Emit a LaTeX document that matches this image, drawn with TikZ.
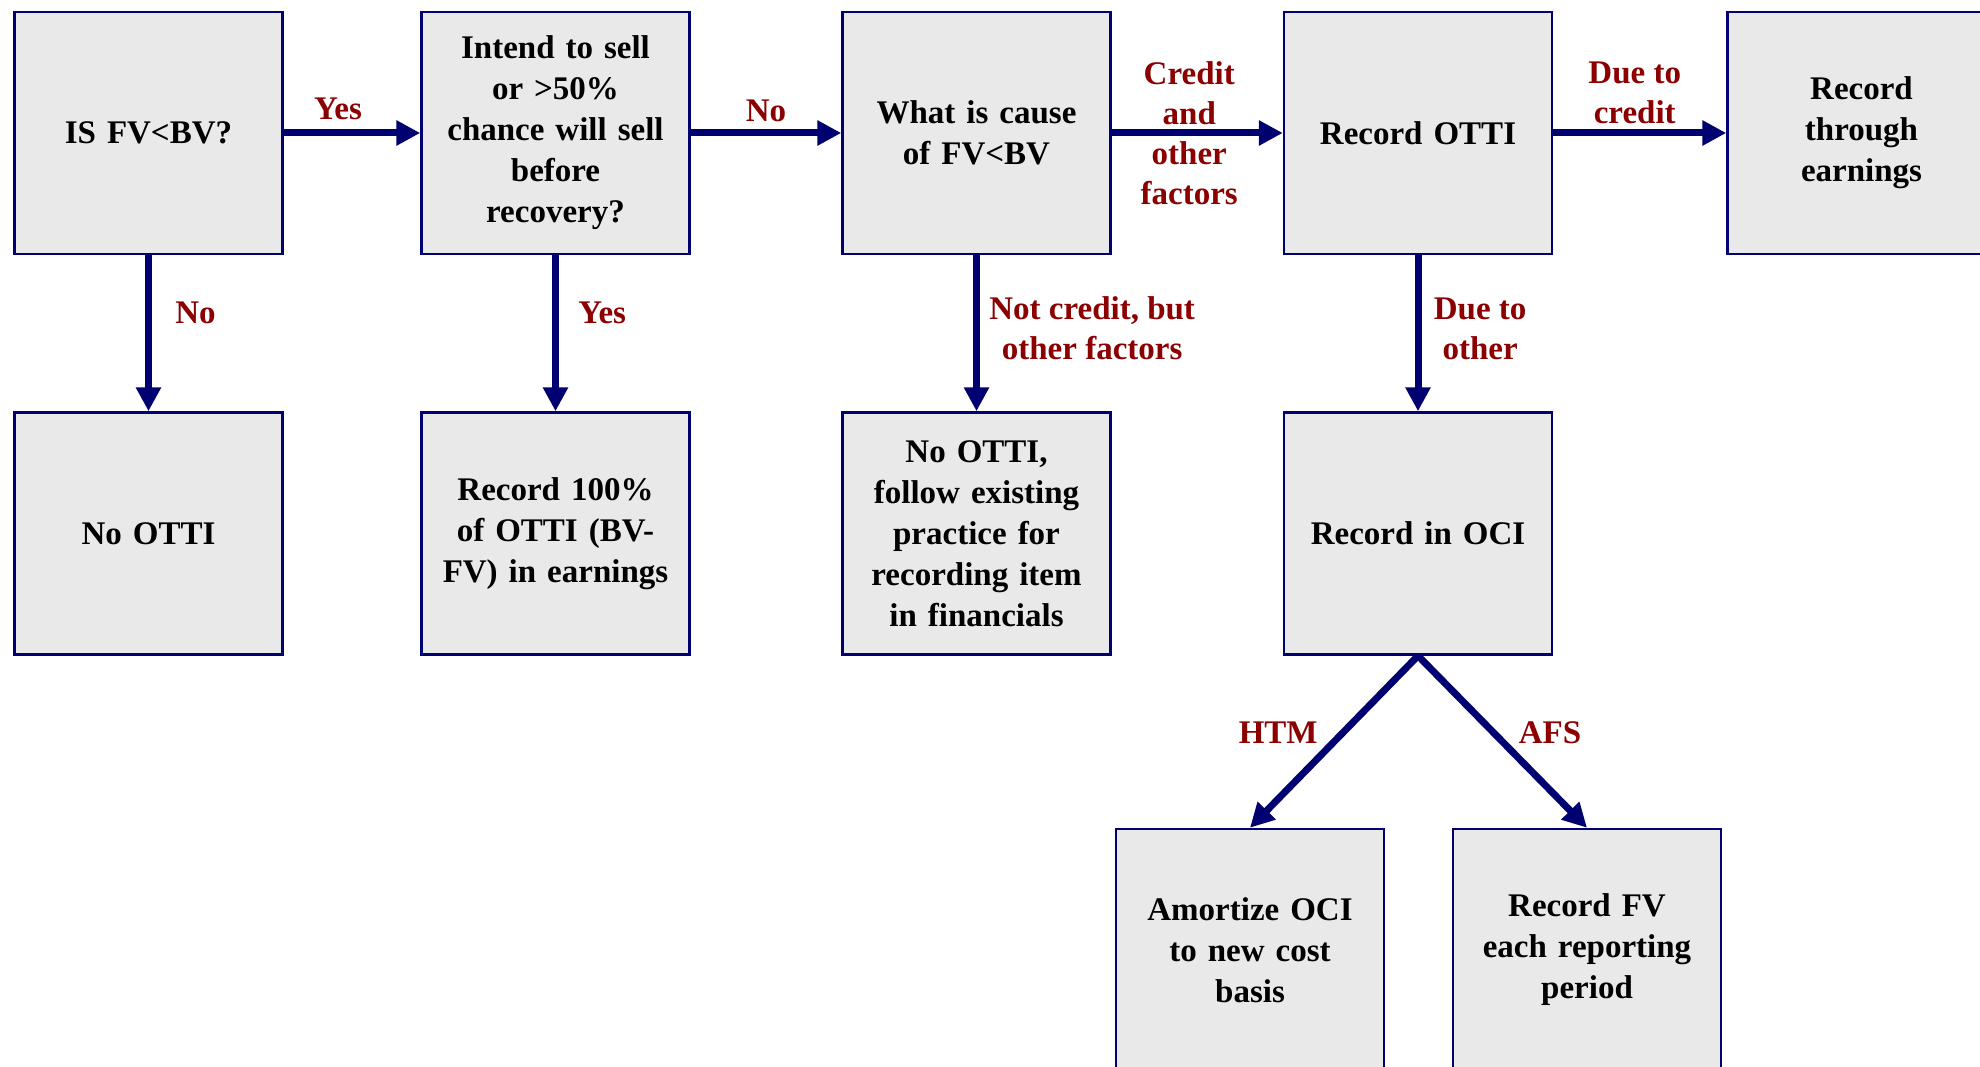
\documentclass[tikz,border=0pt]{standalone}
\usepackage{fontspec}
\setmainfont{Liberation Serif}
\usepackage{xcolor}
\usepackage{tikz}
\usetikzlibrary{arrows.meta}

\definecolor{boxnavy}{RGB}{0,0,112}
\definecolor{lblred}{RGB}{139,0,0}
\definecolor{boxgray}{RGB}{233,233,233}

\tikzset{
    box/.style={draw=boxnavy, line width=2.5pt, fill=boxgray, minimum width=268pt,
        minimum height=242pt, inner sep=0pt, align=center, text width=250pt,
        font=\fontsize{33}{41}\selectfont\bfseries},
    flow/.style={draw=boxnavy, line width=7pt, -{Triangle[length=24pt,width=24pt]}},
    lbl/.style={text=lblred, align=center, font=\fontsize{33}{40}\selectfont\bfseries}
}

\begin{document}
\begin{tikzpicture}[x=1pt,y=-1pt]
            \useasboundingbox (0,0) rectangle (1980,1067);
            \clip (0,0) rectangle (1980,1067);

            % top row
            \node[box] (isfv) at (148.5,133) {IS FV<BV?};
            \node[box] (intend) at (555.5,133) {Intend to sell\\ or >50\%\\ chance will sell\\ before\\ recovery?};
            \node[box] (cause) at (976.5,133) {What is cause\\ of FV<BV};
            \node[box] (otti) at (1418,133) {Record OTTI};
            \node[box] (earn) at (1861.5,133) {Record\\ through\\ earnings};

            % second row
            \node[box] (nootti) at (148.5,533.5) {No OTTI};
            \node[box] (rec100) at (555.5,533.5) {Record 100\%\\ of OTTI (BV-\\ FV) in earnings};
            \node[box] (nocredit) at (976.5,533.5) {No OTTI,\\ follow existing\\ practice for\\ recording item\\ in financials};
            \node[box] (oci) at (1418,533.5) {Record in OCI};

            % third row
            \node[box] (amort) at (1250,950) {Amortize OCI\\ to new cost\\ basis};
            \node[box] (recfv) at (1587,950) {Record FV\\ each reporting\\ period};


            \draw[flow] (isfv) -- node[lbl, above=6pt, xshift=-14pt]{Yes} (intend);
            \draw[flow] (intend) -- node[lbl, above=4pt]{No} (cause);
            \draw[flow] (cause) -- node[lbl, xshift=-8pt]{Credit\\ and\\ other\\ factors} (otti);
            \draw[flow] (otti) -- node[lbl, above=2pt, xshift=-5pt]{Due to\\ credit} (earn);

            \draw[flow] (isfv) -- node[lbl, pos=0.37, right=20pt]{No} (nootti);
            \draw[flow] (intend) -- node[lbl, pos=0.37, right=16pt]{Yes} (rec100);
            \draw[flow] (cause) -- node[lbl, pos=0.47, right=6pt]{Not credit, but\\ other factors} (nocredit);
            \draw[flow] (otti) -- node[lbl, pos=0.47, right=9pt]{Due to\\ other} (oci);

            \draw[flow] (oci.south) -- node[lbl, pos=0.45, left=18pt]{HTM} (amort.north);
            \draw[flow] (oci.south) -- node[lbl, pos=0.45, right=18pt]{AFS} (recfv.north);
        \end{tikzpicture}
\end{document}
